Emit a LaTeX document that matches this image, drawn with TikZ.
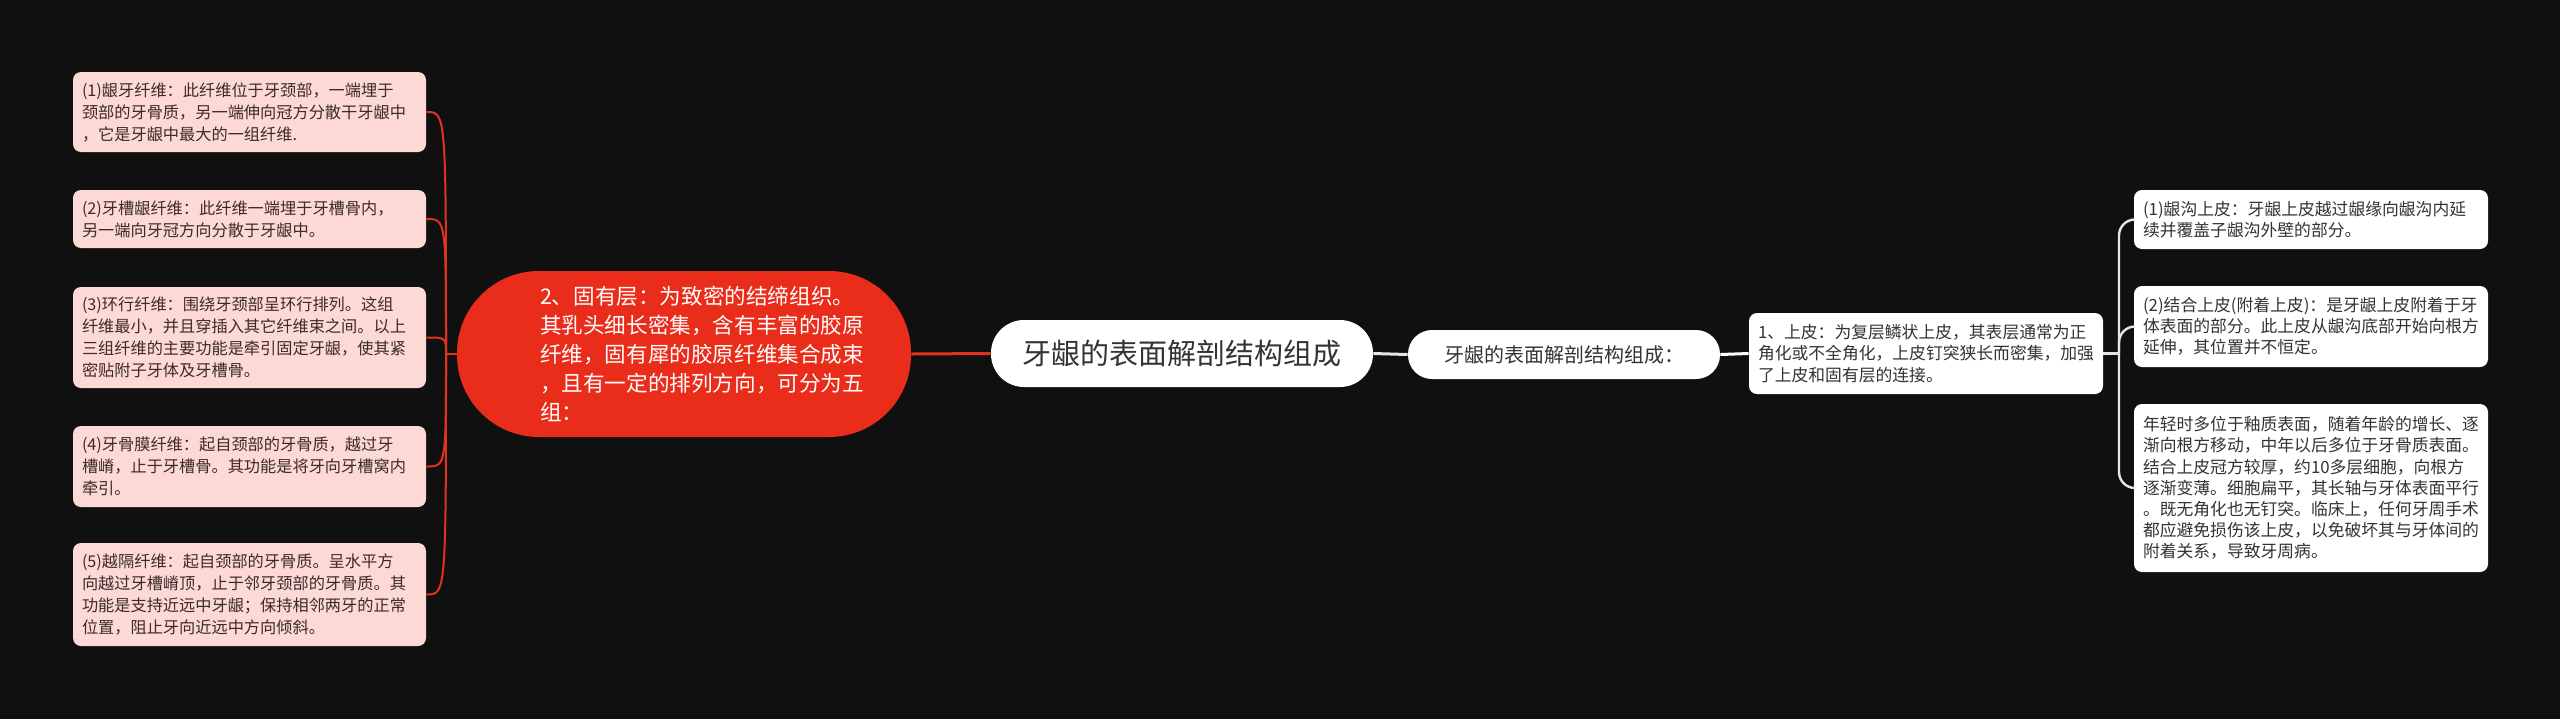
\documentclass[tikz,border=0pt]{standalone}
\usepackage{fontspec}
\newfontfamily\cjk{Noto Sans CJK SC}
\usetikzlibrary{positioning}
\definecolor{bgcol}{HTML}{101010}
\definecolor{pinkfill}{HTML}{FCD9D5}
\definecolor{pinktext}{HTML}{3C2A2A}
\definecolor{redfill}{HTML}{EA2C1A}
\definecolor{redline}{HTML}{E0331F}
\definecolor{greyline}{HTML}{E6E6E6}
\definecolor{darktext}{HTML}{333333}
\newcommand{\ind}{\hspace*{19pt}}

\begin{document}
\begin{tikzpicture}[x=0.5pt,y=-0.5pt,
  pinkbox/.style={fill=pinkfill, rounded corners=4pt, text=pinktext, align=left,
    text width=167.5pt, inner xsep=4.5pt, inner ysep=0pt,
    font=\cjk\fontsize{8.1}{11}\selectfont},
  whitebox/.style={fill=white, rounded corners=4pt, text=darktext, align=left,
    text width=168pt, inner xsep=4.5pt, inner ysep=0pt,
    font=\cjk\fontsize{8.4}{10.6}\selectfont},
  leftlink/.style={redline, line width=1pt},
  rightlink/.style={greyline, line width=1.2pt, rounded corners=8pt}]
%background
\fill[bgcol] (0,0) rectangle (2560,719);
\useasboundingbox (0,0) rectangle (2560,719);
%center nodes
\node[fill=white, rounded corners=16.5pt, minimum width=191pt, minimum height=33.5pt,
  text=darktext, font=\cjk\fontsize{14.5}{17}\selectfont] (root) at (1182,353.5)
  {牙龈的表面解剖结构组成};
\node[fill=redfill, rounded corners=41pt, minimum width=227pt, minimum height=83pt,
  text=white, align=left, text width=182pt, inner sep=0pt,
  font=\cjk\fontsize{10.8}{14.5}\selectfont] (layer) at (684,354)
  {\ind 2、固有层：为致密的结缔组织。\\\ind 其乳头细长密集，含有丰富的胶原\\\ind 纤维，固有犀的胶原纤维集合成束\\\ind ，且有一定的排列方向，可分为五\\\ind 组：};
\node[fill=white, rounded corners=12pt, minimum width=156pt, minimum height=24.5pt,
  text=darktext, font=\cjk\fontsize{10}{12}\selectfont] (parts) at (1564,354.5)
  {牙龈的表面解剖结构组成：};
\node[whitebox, minimum height=40.5pt] (skin) at (1926,353.5)
  {1、上皮：为复层鳞状上皮，其表层通常为正\\角化或不全角化，上皮钉突狭长而密集，加强\\了上皮和固有层的连接。};
%left nodes
\node[pinkbox, minimum height=40pt] (l1) at (249.5,112)
  {(1)龈牙纤维：此纤维位于牙颈部，一端埋于\\颈部的牙骨质，另一端伸向冠方分散干牙龈中\\，它是牙龈中最大的一组纤维.};
\node[pinkbox, minimum height=29pt] (l2) at (249.5,219)
  {(2)牙槽龈纤维：此纤维一端埋于牙槽骨内，\\另一端向牙冠方向分散于牙龈中。};
\node[pinkbox, minimum height=50.5pt] (l3) at (249.5,337.5)
  {(3)环行纤维：围绕牙颈部呈环行排列。这组\\纤维最小，并且穿插入其它纤维束之间。以上\\三组纤维的主要功能是牵引固定牙龈，使其紧\\密贴附子牙体及牙槽骨。};
\node[pinkbox, minimum height=40.5pt] (l4) at (249.5,466.5)
  {(4)牙骨膜纤维：起自颈部的牙骨质，越过牙\\槽嵴，止于牙槽骨。其功能是将牙向牙槽窝内\\牵引。};
\node[pinkbox, minimum height=51.5pt] (l5) at (249.5,594.5)
  {(5)越隔纤维：起自颈部的牙骨质。呈水平方\\向越过牙槽嵴顶，止于邻牙颈部的牙骨质。其\\功能是支持近远中牙龈；保持相邻两牙的正常\\位置，阻止牙向近远中方向倾斜。};
%right nodes
\node[whitebox, minimum height=29.5pt] (r1) at (2311,219.5)
  {(1)龈沟上皮：牙龈上皮越过龈缘向龈沟内延\\续并覆盖子龈沟外壁的部分。};
\node[whitebox, minimum height=40.5pt] (r2) at (2311,326.5)
  {(2)结合上皮(附着上皮)：是牙龈上皮附着于牙\\体表面的部分。此上皮从龈沟底部开始向根方\\延伸，其位置并不恒定。};
\node[whitebox, minimum height=84pt] (r3) at (2311,488)
  {年轻时多位于釉质表面，随着年龄的增长、逐\\渐向根方移动，中年以后多位于牙骨质表面。\\结合上皮冠方较厚，约10多层细胞，向根方\\逐渐变薄。细胞扁平，其长轴与牙体表面平行\\。既无角化也无钉突。临床上，任何牙周手术\\都应避免损伤该上皮，以免破坏其与牙体间的\\附着关系，导致牙周病。};
%junctions
\coordinate (lj) at (446,354);
\coordinate (rj) at (2119,353.5);
%links
\draw[redline, line width=1.5pt] (root.west) -- (layer.east);
\draw[greyline, line width=1.5pt] (root.east) -- (parts.west);
\draw[white, line width=1.5pt] (parts.east) -- (skin.west);
\draw[leftlink] (layer.west) -- (lj);
\foreach \b in {l1,l2,l3,l4,l5}
  \draw[leftlink] (lj) .. controls (lj |- \b.east) .. (\b.east);
\draw[rightlink] (skin.east) -- (rj);
\foreach \b in {r1,r2,r3}
  \draw[rightlink] (rj) |- (\b.west);
\end{tikzpicture}
\end{document}
